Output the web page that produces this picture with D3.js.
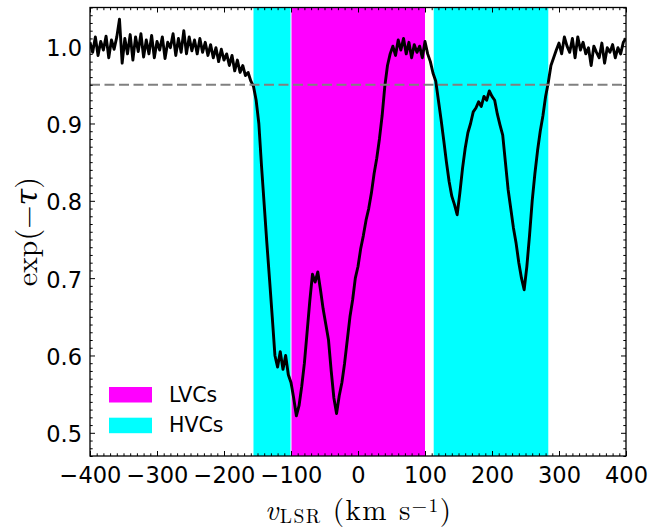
<!DOCTYPE html>
<html>
<head>
<meta charset="utf-8">
<script src="https://cdn.jsdelivr.net/npm/d3@7/dist/d3.min.js"></script>
<style>
  body { margin: 0; background: #fff; }
  .tick text { font-family: "DejaVu Sans", sans-serif; font-size: 22.5px; fill: #000; }
  .tick line { stroke: #000; stroke-width: 1; }
</style>
</head>
<body>
<svg id="chart" width="651" height="529"></svg>
<script>
// channel velocities (km/s) and absorption spectrum exp(-tau)
const velocity = [
  -400, -396, -392, -388, -384, -380, -376, -372, -368, -364,
  -360, -356, -352, -348, -344, -340, -336, -332, -328, -324,
  -320, -316, -312, -308, -304, -300, -296, -292, -288, -284,
  -280, -276, -272, -268, -264, -260, -256, -252, -248, -244,
  -240, -236, -232, -228, -224, -220, -216, -212, -208, -204,
  -200, -196, -192, -188, -184, -180, -176, -172, -168, -164,
  -160, -156, -152, -148, -144, -140, -136, -132, -128, -124,
  -120, -116, -112, -108, -104, -100, -96, -92, -88, -84,
  -80, -76, -72, -68, -64, -60, -56, -52, -48, -44,
  -40, -36, -32, -28, -24, -20, -16, -12, -8, -4,
  0, 4, 8, 12, 16, 20, 24, 28, 32, 36,
  40, 44, 48, 52, 56, 60, 64, 68, 72, 76,
  80, 84, 88, 92, 96, 100, 104, 108, 112, 116,
  120, 124, 128, 132, 136, 140, 144, 148, 152, 156,
  160, 164, 168, 172, 176, 180, 184, 188, 192, 196,
  200, 204, 208, 212, 216, 220, 224, 228, 232, 236,
  240, 244, 248, 252, 256, 260, 264, 268, 272, 276,
  280, 284, 288, 292, 296, 300, 304, 308, 312, 316,
  320, 324, 328, 332, 336, 340, 344, 348, 352, 356,
  360, 364, 368, 372, 376, 380, 384, 388, 392, 396,
  400
];
const expTau = [
  1.005, 0.992, 1.012, 0.988, 1.006, 0.995, 1.013, 0.985, 1.008, 0.996,
  1.012, 1.035, 0.978, 1.010, 0.990, 1.015, 0.982, 1.012, 0.993, 1.016,
  0.986, 1.008, 0.990, 1.014, 0.985, 1.006, 0.995, 1.012, 0.984, 1.005,
  0.998, 1.016, 0.988, 1.010, 0.992, 1.020, 0.990, 1.012, 0.994, 1.008,
  0.990, 1.010, 0.992, 1.005, 0.988, 1.002, 0.985, 0.998, 0.980, 0.996,
  0.982, 0.990, 0.975, 0.988, 0.968, 0.982, 0.966, 0.975, 0.962, 0.966,
  0.955, 0.948, 0.930, 0.900, 0.845, 0.795, 0.745, 0.698, 0.650, 0.600,
  0.585, 0.605, 0.582, 0.600, 0.575, 0.565, 0.545, 0.522, 0.535, 0.560,
  0.590, 0.630, 0.670, 0.705, 0.695, 0.708, 0.685, 0.660, 0.640, 0.620,
  0.580, 0.545, 0.525, 0.548, 0.565, 0.590, 0.620, 0.650, 0.672, 0.700,
  0.715, 0.738, 0.755, 0.775, 0.790, 0.810, 0.835, 0.855, 0.880, 0.910,
  0.948, 0.975, 0.990, 1.000, 0.988, 1.008, 0.995, 1.010, 0.990, 1.005,
  0.985, 1.002, 0.992, 1.000, 0.985, 1.006, 0.990, 0.980, 0.965, 0.955,
  0.930, 0.905, 0.878, 0.850, 0.825, 0.806, 0.795, 0.782, 0.810, 0.842,
  0.868, 0.888, 0.900, 0.915, 0.920, 0.928, 0.922, 0.935, 0.930, 0.942,
  0.935, 0.930, 0.912, 0.898, 0.885, 0.850, 0.815, 0.790, 0.765, 0.745,
  0.720, 0.700, 0.685, 0.715, 0.755, 0.800, 0.835, 0.865, 0.890, 0.910,
  0.935, 0.953, 0.975, 0.985, 0.995, 1.004, 0.990, 1.012, 1.000, 0.992,
  1.010, 0.985, 1.012, 0.995, 1.005, 0.990, 0.998, 0.975, 1.000, 0.992,
  0.985, 1.004, 0.978, 0.998, 0.992, 1.002, 0.985, 0.998, 0.990, 1.005,
  1.010
];

// velocity windows
const lvcRange = [-100, 100];
const hvcRanges = [[-156, -100], [113, 284]];
const threshold = 0.95;

const xTicks = [-400, -300, -200, -100, 0, 100, 200, 300, 400];
const yTicks = [0.5, 0.6, 0.7, 0.8, 0.9, 1.0];
const legendItems = [
  {label: "LVCs", color: "#ff00ff"},
  {label: "HVCs", color: "#00ffff"}
];

const plotLeft = 90, plotRight = 626, plotTop = 7.5, plotBottom = 456;

const svg = d3.select("#chart");

const x = d3.scaleLinear().domain([-400, 400]).range([plotLeft, plotRight]);
const y = d3.scaleLinear().domain([0.47, 1.05]).range([plotBottom, plotTop]);

svg.append("clipPath").attr("id", "clip")
  .append("rect")
  .attr("x", plotLeft).attr("y", plotTop)
  .attr("width", plotRight - plotLeft).attr("height", plotBottom - plotTop);

const plot = svg.append("g").attr("clip-path", "url(#clip)");

// shaded velocity ranges
plot.append("rect")
  .attr("x", x(lvcRange[0])).attr("y", plotTop)
  .attr("width", x(lvcRange[1]) - x(lvcRange[0]))
  .attr("height", plotBottom - plotTop)
  .attr("fill", "#ff00ff");

plot.selectAll("rect.hvc").data(hvcRanges).enter()
  .append("rect").attr("class", "hvc")
  .attr("x", d => x(d[0])).attr("y", plotTop)
  .attr("width", d => x(d[1]) - x(d[0]))
  .attr("height", plotBottom - plotTop)
  .attr("fill", "#00ffff");

// thin white seam between the touching spans
plot.append("line")
  .attr("x1", x(lvcRange[0])).attr("x2", x(lvcRange[0]))
  .attr("y1", plotTop).attr("y2", plotBottom)
  .attr("stroke", "#fff").attr("stroke-width", 1);

// spectrum
const line = d3.line()
  .x((d, i) => x(velocity[i]))
  .y(d => y(d));

plot.append("path")
  .datum(expTau)
  .attr("d", line)
  .attr("fill", "none")
  .attr("stroke", "#000")
  .attr("stroke-width", 2.9)
  .attr("stroke-linejoin", "round");

// 0.95 level
plot.append("line")
  .attr("x1", plotLeft).attr("x2", plotRight)
  .attr("y1", y(threshold)).attr("y2", y(threshold))
  .attr("stroke", "#808080")
  .attr("stroke-width", 2)
  .attr("stroke-dasharray", "10,4.5");

// minor tick values
const xMinor = d3.range(-400, 401, 10).filter(v => v % 100 !== 0);
const yMinor = d3.range(47, 106).map(v => v / 100).filter(v => Math.round(v * 100) % 10 !== 0);

const fmtY = d3.format(".1f");

function addAxis(axis, transform) {
  const g = svg.append("g").attr("transform", transform).call(axis);
  g.select(".domain").remove();
  return g;
}

// bottom
addAxis(d3.axisBottom(x).tickValues(xTicks).tickSizeInner(-5).tickSizeOuter(0)
  .tickPadding(11).tickFormat(d3.format("d")), `translate(0,${plotBottom})`);
addAxis(d3.axisBottom(x).tickValues(xMinor).tickSizeInner(-2.7).tickSizeOuter(0)
  .tickFormat(""), `translate(0,${plotBottom})`);
// top
addAxis(d3.axisTop(x).tickValues(xTicks).tickSizeInner(-5).tickSizeOuter(0)
  .tickFormat(""), `translate(0,${plotTop})`);
addAxis(d3.axisTop(x).tickValues(xMinor).tickSizeInner(-2.7).tickSizeOuter(0)
  .tickFormat(""), `translate(0,${plotTop})`);
// left
const yAxisG = addAxis(d3.axisLeft(y).tickValues(yTicks).tickSizeInner(-5).tickSizeOuter(0)
  .tickPadding(8).tickFormat(fmtY), `translate(${plotLeft},0)`);
yAxisG.selectAll("text").attr("dy", "0.4em");
addAxis(d3.axisLeft(y).tickValues(yMinor).tickSizeInner(-2.7).tickSizeOuter(0)
  .tickFormat(""), `translate(${plotLeft},0)`);
// right
addAxis(d3.axisRight(y).tickValues(yTicks).tickSizeInner(-5).tickSizeOuter(0)
  .tickFormat(""), `translate(${plotRight},0)`);
addAxis(d3.axisRight(y).tickValues(yMinor).tickSizeInner(-2.7).tickSizeOuter(0)
  .tickFormat(""), `translate(${plotRight},0)`);

// frame
svg.append("rect")
  .attr("x", plotLeft).attr("y", plotTop)
  .attr("width", plotRight - plotLeft).attr("height", plotBottom - plotTop)
  .attr("fill", "none").attr("stroke", "#000").attr("stroke-width", 1.3);

// legend
const legend = svg.append("g").attr("transform", "translate(109,387)");
const item = legend.selectAll("g").data(legendItems).enter()
  .append("g").attr("transform", (d, i) => `translate(0,${i * 30.7})`);
item.append("rect")
  .attr("width", 43).attr("height", 15.5)
  .attr("fill", d => d.color);
item.append("text")
  .attr("x", 60).attr("y", 14.7)
  .attr("font-family", "DejaVu Sans, sans-serif")
  .attr("font-size", 20.5)
  .text(d => d.label);

// axis labels
const serif = "'Latin Modern Roman', 'CMU Serif', 'DejaVu Serif', serif";
const xl = svg.append("text")
  .attr("x", (plotLeft + plotRight) / 2).attr("y", 519.5)
  .attr("text-anchor", "middle")
  .attr("font-family", serif)
  .attr("font-size", 29)
  .attr("textLength", 186)
  .attr("lengthAdjust", "spacing");
xl.append("tspan").attr("font-style", "italic").text("v");
xl.append("tspan").attr("font-size", 19.5).attr("dy", 3).text("LSR");
xl.append("tspan").attr("dy", -3).text(" (km s");
xl.append("tspan").attr("font-size", 19.5).attr("dy", -8).text("\u22121");
xl.append("tspan").attr("dy", 8).text(")");

const yl = svg.append("text")
  .attr("transform", `translate(37,${(plotTop + plotBottom) / 2}) rotate(-90)`)
  .attr("text-anchor", "middle")
  .attr("font-family", serif)
  .attr("font-size", 30);
yl.append("tspan").text("exp(\u2212");
yl.append("tspan").attr("font-style", "italic").text("\u03c4");
yl.append("tspan").text(")");
</script>
</body>
</html>
